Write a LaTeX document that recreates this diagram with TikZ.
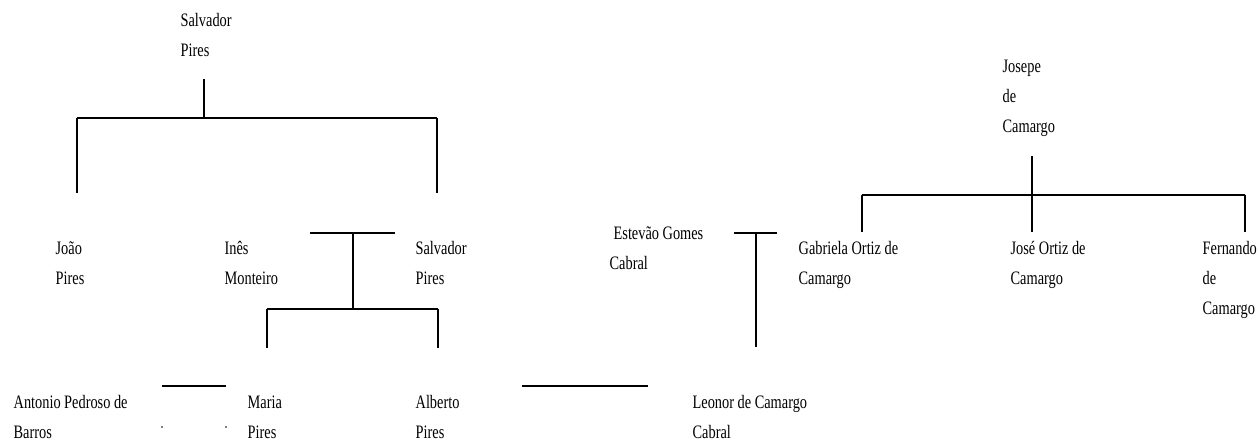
\documentclass[tikz,border=0pt]{standalone}
\usepackage{fontspec}
\setmainfont{Liberation Serif}[FakeStretch=0.755]
\begin{document}
\begin{tikzpicture}[x=1pt, y=-1pt, line width=1.3pt,
  person/.style={anchor=base west, align=left, inner sep=0pt,
    font=\fontsize{19}{30}\selectfont},
  speck/.style={fill=black}]
\useasboundingbox (0,0) rectangle (1258,446);
% Salvador Pires and his children (nodes sit on their last line)
\node[person] (salvador) at (180,57) {Salvador\\Pires};
\coordinate (sp-top) at (204,79);
\coordinate (sp-left) at (77,118);
\coordinate (sp-right) at (437,118);
\draw (sp-top) -- (sp-top |- sp-left);
\draw (sp-left) -- (sp-right);
\draw (sp-left) -- ++(0,75);
\draw (sp-right) -- ++(0,75);
\node[person] (joao) at (55,285) {João\\Pires};
\node[person] (ines) at (224,285) {Inês\\Monteiro};
\node[person] (salvador2) at (415,285) {Salvador\\Pires};

% Inês and Salvador: the couple and their two children
\coordinate (is-left) at (310,233);
\coordinate (is-right) at (395,233);
\coordinate (is-mid) at (353,233);
\coordinate (is-kids-l) at (267,309);
\coordinate (is-kids-r) at (438,309);
\draw (is-left) -- (is-right);
\draw (is-mid) -- (is-mid |- is-kids-l);
\draw (is-kids-l) -- (is-kids-r);
\draw (is-kids-l) -- ++(0,39);
\draw (is-kids-r) -- ++(0,39);

\node[person] (antonio) at (13,438) {Antonio Pedroso de\\Barros};
\node[person] (maria) at (247,438) {Maria\\Pires};
\node[person] (alberto) at (415,438) {Alberto\\Pires};
\node[person] (leonor) at (692,438) {Leonor de Camargo\\Cabral};
\coordinate (am-left) at (162,386);
\coordinate (am-right) at (226,386);
\draw (am-left) -- (am-right);
\fill[speck] (162,427) circle (0.9);
\fill[speck] (226,427) circle (0.9);
\coordinate (al-left) at (522,386);
\coordinate (al-right) at (648,386);
\draw (al-left) -- (al-right);

% Estevão Gomes Cabral and Gabriela
\node[person] (estevao) at (613,240) {Estevão Gomes};
\node[person] (cabral) at (609,270) {Cabral};
\coordinate (eg-left) at (734,233);
\coordinate (eg-right) at (777,233);
\coordinate (eg-mid) at (756,233);
\draw (eg-left) -- (eg-right);
\draw (eg-mid) -- ++(0,114);

% Josepe de Camargo and his children
\node[person] (josepe) at (1002,133) {Josepe\\de\\Camargo};
\coordinate (jc-top) at (1032,156);
\coordinate (jc-left) at (862,195);
\coordinate (jc-right) at (1245,195);
\draw (jc-top) -- ++(0,76);
\draw (jc-left) -- (jc-right);
\draw (jc-left) -- ++(0,37);
\draw (jc-right) -- ++(0,37);
\node[person] (gabriela) at (798,285) {Gabriela Ortiz de\\Camargo};
\node[person] (jose) at (1010,285) {José Ortiz de\\Camargo};
\node[person] (fernando) at (1202,315) {Fernando\\de\\Camargo};
\end{tikzpicture}
\end{document}
